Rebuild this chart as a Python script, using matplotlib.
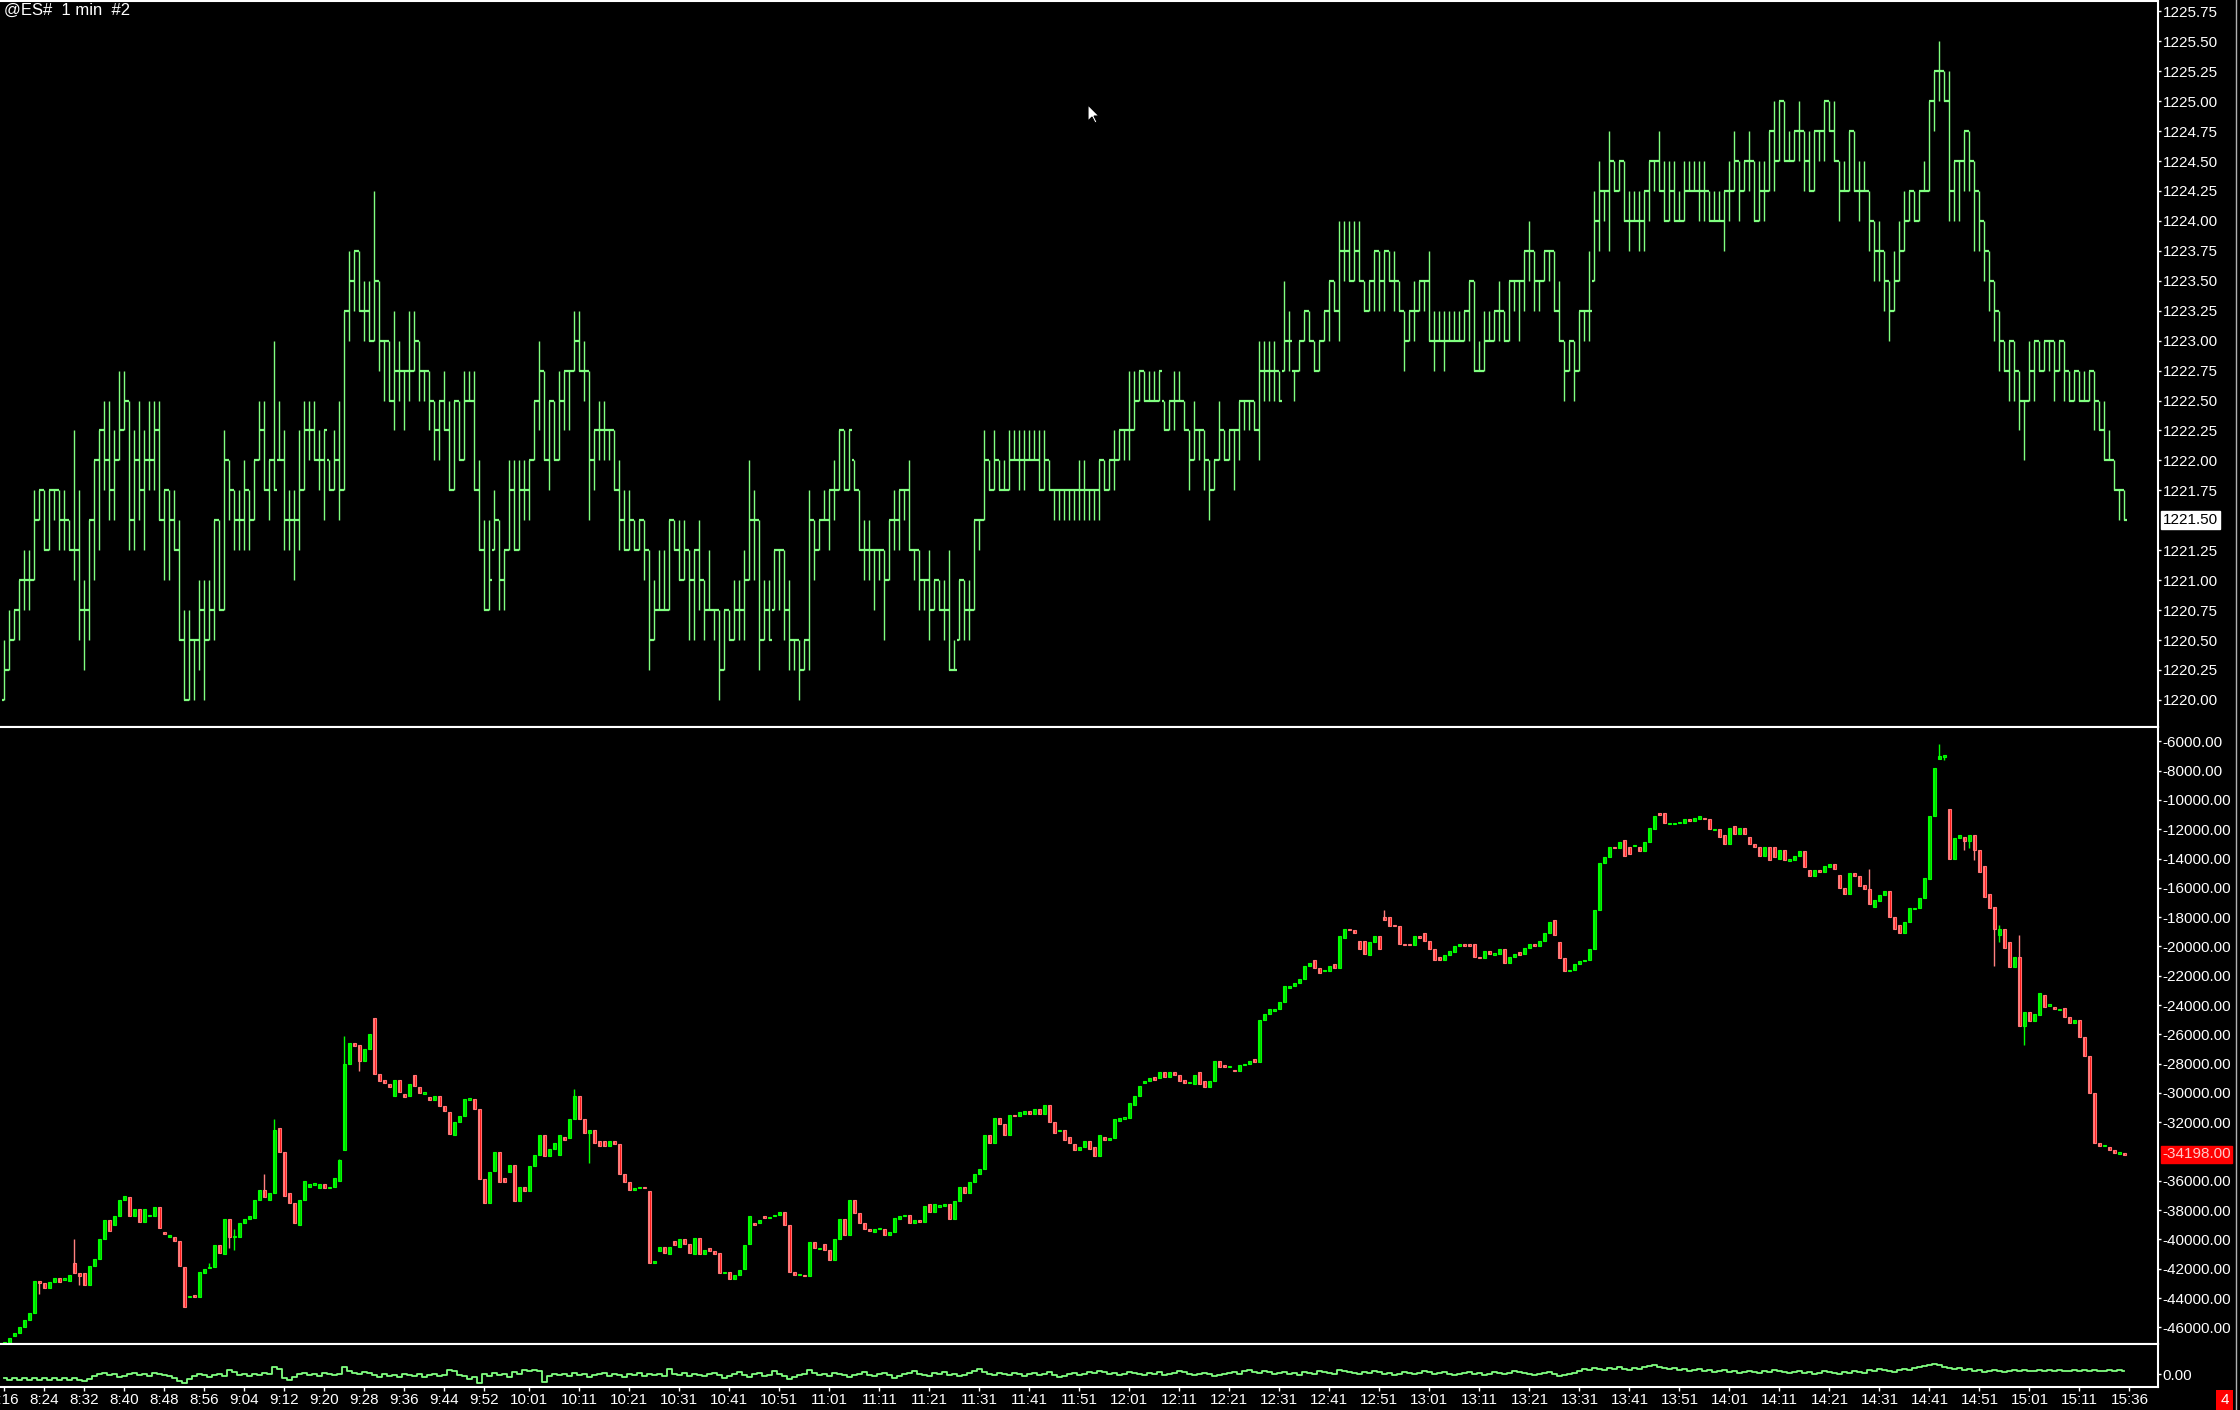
import numpy as np
import matplotlib.pyplot as plt
from matplotlib.ticker import FormatStrFormatter
from matplotlib.patches import Polygon, Rectangle
from matplotlib.lines import Line2D

plt.rcParams['font.family'] = ['Liberation Sans', 'DejaVu Sans']

# ---------------- data ----------------
title = '@ES#  1 min  #2'
time_labels = ['8:16', '8:24', '8:32', '8:40', '8:48', '8:56', '9:04', '9:12', '9:20', '9:28',
               '9:36', '9:44', '9:52', '10:01', '10:11', '10:21', '10:31', '10:41', '10:51',
               '11:01', '11:11', '11:21', '11:31', '11:41', '11:51', '12:01', '12:11', '12:21',
               '12:31', '12:41', '12:51', '13:01', '13:11', '13:21', '13:31', '13:41', '13:51',
               '14:01', '14:11', '14:21', '14:31', '14:41', '14:51', '15:01', '15:11', '15:36']

# price bars, in ticks of 0.25 above 1220.00
price_close = [
    1, 2, 3, 4, 4, 4, 6, 7, 5, 7,   7, 6, 6, 5, 5, 3, 3, 6, 8, 9,
    8, 7, 8, 9, 10, 6, 8, 7, 8, 8,  9, 6, 7, 6, 5, 2, 0, 2, 2, 3,
    2, 3, 6, 3, 8, 7, 6, 6, 7, 6,   8, 9, 7, 8, 7, 8, 6, 6, 6, 7,
    9, 9, 8, 8, 9, 7, 8, 7, 13, 14, 15, 13, 13, 12, 14, 12, 12, 10, 11, 11,
    11, 11, 12, 11, 11, 10, 9, 10, 9, 7,  10, 8, 10, 10, 7, 5, 3, 4, 6, 4,
    5, 7, 5, 7, 7, 8, 10, 11, 8, 10,  8, 10, 11, 11, 12, 11, 11, 8, 9, 9,
    9, 9, 7, 6, 5, 6, 5, 6, 5, 2,   3, 3, 3, 6, 5, 4, 5, 4, 5, 4,
    3, 3, 3, 1, 3, 2, 3, 3, 4, 6,   6, 2, 3, 2, 5, 5, 3, 2, 2, 1,
    2, 6, 5, 6, 6, 7, 7, 9, 7, 9,   7, 5, 5, 5, 5, 5, 4, 6, 6, 7,
    7, 5, 5, 4, 4, 3, 4, 3, 3, 1,   1, 4, 3, 3, 6, 6, 8, 7, 8, 7,
    7, 8, 8, 8, 8, 8, 8, 7, 8, 7,   7, 7, 7, 7, 7, 7, 7, 7, 7, 8,
    7, 8, 8, 9, 9, 9, 10, 11, 10, 10,  10, 11, 9, 10, 10, 10, 9, 8, 9, 9,
    8, 7, 8, 9, 8, 9, 9, 10, 10, 10,  9, 11, 11, 11, 11, 10, 12, 12, 11, 12,
    13, 12, 11, 12, 13, 14, 13, 15, 15, 14,  15, 14, 13, 14, 15, 14, 15, 14, 14, 13,
    12, 13, 13, 14, 14, 12, 12, 12, 12, 12,  12, 12, 13, 14, 11, 11, 12, 12, 13, 13,
    12, 14, 14, 14, 15, 15, 14, 14, 15, 15,  13, 12, 11, 12, 11, 13, 13, 13, 16, 17,
    17, 18, 17, 18, 16, 16, 16, 16, 17, 18,  18, 17, 16, 17, 16, 16, 17, 17, 17, 17,
    17, 16, 16, 16, 17, 17, 18, 17, 18, 18,  16, 17, 17, 19, 18, 20, 18, 18, 19, 19,
    18, 17, 19, 19, 20, 19, 18, 17, 17, 19,  17, 17, 17, 16, 15, 15, 14, 13, 14, 15,
    16, 17, 16, 17, 17, 20, 21, 21, 20, 17,  18, 18, 19, 18, 17, 16, 15, 14, 13, 12,
    11, 12, 11, 10, 10, 11, 12, 11, 12, 12,  11, 12, 11, 10, 11, 10, 10, 11, 10, 9,
    8, 8, 7, 7, 6]
price_low = [
    0, 1, 2, 2, 3, 3, 4, 6, 5, 5,   6, 5, 5, 5, 4, 2, 1, 2, 4, 5,
    7, 6, 6, 8, 9, 5, 5, 6, 5, 7,   7, 6, 4, 4, 5, 2, 0, 0, 0, 1,
    0, 2, 2, 3, 3, 6, 5, 5, 5, 5,   6, 8, 7, 6, 7, 8, 5, 5, 4, 5,
    7, 8, 8, 7, 6, 7, 7, 6, 7, 12,  13, 13, 12, 12, 12, 11, 10, 10, 9, 10,
    9, 10, 11, 10, 10, 9, 8, 8, 9, 7,  7, 8, 8, 10, 7, 5, 3, 3, 5, 3,
    3, 5, 5, 5, 6, 6, 8, 9, 8, 7,   8, 8, 9, 9, 11, 11, 10, 6, 7, 8,
    8, 8, 7, 5, 5, 5, 5, 5, 4, 1,   2, 3, 3, 3, 5, 4, 4, 2, 2, 3,
    2, 3, 2, 0, 1, 2, 2, 2, 2, 4,   4, 1, 2, 2, 3, 3, 2, 1, 1, 0,
    1, 1, 4, 5, 6, 5, 6, 7, 7, 7,   7, 5, 4, 4, 3, 4, 2, 4, 5, 5,
    6, 5, 4, 3, 3, 2, 3, 3, 2, 1,   1, 2, 2, 2, 3, 5, 6, 7, 7, 7,
    7, 7, 8, 7, 7, 8, 8, 7, 7, 7,   6, 6, 6, 6, 6, 6, 6, 6, 6, 6,
    7, 7, 7, 8, 8, 8, 9, 10, 10, 10,  10, 10, 9, 9, 9, 10, 9, 7, 8, 8,
    7, 6, 7, 8, 8, 8, 7, 8, 9, 9,   9, 8, 10, 10, 10, 10, 11, 11, 10, 11,
    12, 12, 11, 11, 12, 12, 13, 12, 14, 14,  14, 14, 13, 13, 13, 13, 13, 14, 13, 13,
    11, 12, 12, 13, 13, 12, 11, 12, 11, 12,  12, 12, 12, 12, 11, 11, 11, 12, 12, 12,
    12, 12, 13, 12, 13, 14, 13, 13, 14, 14,  13, 12, 10, 11, 10, 11, 12, 12, 14, 15,
    16, 15, 17, 17, 16, 15, 16, 15, 15, 16,  17, 17, 16, 16, 16, 16, 16, 17, 17, 16,
    16, 16, 16, 16, 15, 16, 17, 16, 17, 17,  16, 16, 16, 17, 17, 18, 18, 18, 18, 18,
    17, 17, 17, 18, 18, 19, 18, 16, 17, 17,  17, 16, 17, 15, 14, 14, 13, 12, 13, 14,
    15, 16, 16, 16, 17, 17, 19, 20, 20, 16,  16, 16, 17, 17, 15, 15, 14, 13, 12, 11,
    11, 10, 10, 9, 8, 10, 10, 11, 11, 11,  10, 11, 10, 10, 10, 10, 10, 10, 9, 9,
    8, 8, 7, 6, 6]
price_high = [
    2, 3, 3, 4, 5, 5, 7, 7, 7, 7,   7, 7, 7, 6, 9, 7, 4, 6, 8, 9,
    10, 10, 9, 11, 11, 10, 9, 10, 9, 10,  10, 10, 7, 7, 7, 6, 3, 3, 2, 4,
    4, 4, 6, 6, 9, 8, 7, 7, 8, 7,   8, 10, 10, 8, 12, 10, 9, 7, 7, 9,
    10, 10, 10, 9, 9, 8, 9, 10, 13, 15,  15, 15, 14, 14, 17, 14, 12, 12, 13, 12,
    11, 13, 13, 12, 11, 11, 10, 10, 11, 10,  10, 10, 11, 11, 11, 8, 6, 6, 7, 6,
    5, 8, 8, 8, 8, 8, 10, 12, 11, 10,  10, 11, 11, 11, 13, 13, 12, 11, 9, 10,
    10, 9, 9, 8, 7, 7, 6, 6, 6, 5,   4, 5, 5, 6, 6, 6, 6, 5, 5, 6,
    4, 5, 3, 3, 3, 3, 4, 4, 5, 8,   7, 6, 4, 4, 5, 5, 5, 4, 2, 2,
    2, 7, 6, 6, 7, 7, 8, 9, 9, 9,   8, 7, 6, 6, 5, 5, 5, 6, 7, 7,
    7, 8, 5, 5, 4, 5, 4, 4, 4, 5,   2, 4, 4, 4, 6, 6, 9, 8, 9, 8,
    8, 9, 9, 9, 9, 9, 9, 9, 9, 8,   7, 7, 7, 7, 7, 8, 8, 7, 7, 8,
    8, 8, 9, 9, 9, 11, 11, 11, 11, 11,  11, 11, 10, 10, 11, 11, 10, 9, 10, 9,
    9, 8, 8, 10, 9, 9, 9, 10, 10, 10,  10, 12, 12, 12, 12, 11, 14, 13, 11, 12,
    13, 13, 12, 12, 13, 14, 14, 16, 16, 16,  16, 16, 14, 14, 15, 15, 15, 15, 15, 14,
    13, 13, 14, 14, 14, 15, 13, 13, 13, 13,  13, 13, 13, 14, 14, 12, 13, 13, 13, 14,
    13, 14, 14, 14, 15, 16, 15, 14, 15, 15,  15, 14, 12, 12, 12, 13, 13, 15, 17, 18,
    17, 19, 18, 18, 18, 17, 17, 17, 17, 18,  18, 19, 18, 18, 18, 17, 18, 18, 18, 18,
    18, 17, 17, 17, 17, 18, 19, 18, 18, 19,  18, 18, 18, 19, 20, 20, 20, 19, 19, 20,
    19, 19, 19, 19, 20, 20, 20, 18, 18, 19,  19, 18, 18, 17, 16, 16, 15, 14, 15, 16,
    17, 17, 17, 17, 18, 20, 21, 22, 21, 21,  18, 18, 19, 19, 18, 17, 16, 15, 14, 13,
    12, 12, 12, 11, 10, 12, 12, 12, 12, 12,  12, 12, 12, 11, 11, 11, 11, 11, 11, 10,
    10, 9, 8, 7, 7]

# cumulative delta candles, in hundreds
delta_open = [
    -472, -471, -466, -464, -460, -455, -450, -428, -430, -433,
    -429, -426, -427, -428, -416, -423, -423, -431, -418, -413,
    -400, -387, -390, -384, -373, -371, -384, -379, -388, -384,
    -384, -378, -395, -398, -398, -401, -419, -439, -438, -439,
    -423, -419, -419, -404, -410, -386, -398, -398, -389, -386,
    -385, -373, -366, -373, -368, -324, -340, -368, -375, -390,
    -373, -364, -362, -365, -362, -365, -364, -360, -339, -280,
    -266, -267, -278, -270, -249, -287, -291, -294, -302, -291,
    -301, -302, -288, -296, -300, -303, -305, -302, -309, -313,
    -329, -320, -316, -304, -304, -311, -359, -375, -353, -340,
    -358, -354, -349, -374, -364, -367, -350, -342, -329, -343,
    -338, -342, -330, -331, -318, -302, -318, -327, -325, -333,
    -333, -336, -333, -335, -355, -361, -366, -365, -364, -367,
    -416, -408, -405, -410, -401, -405, -400, -403, -410, -399,
    -410, -406, -408, -409, -423, -422, -427, -424, -420, -403,
    -389, -389, -384, -385, -384, -383, -381, -390, -422, -424,
    -424, -425, -402, -406, -403, -407, -414, -400, -386, -397,
    -373, -382, -389, -393, -395, -393, -393, -397, -395, -386,
    -384, -383, -389, -387, -388, -376, -381, -377, -377, -376,
    -386, -374, -364, -368, -361, -355, -352, -329, -334, -317,
    -321, -329, -315, -316, -314, -312, -314, -311, -314, -308,
    -320, -326, -325, -330, -335, -339, -337, -333, -337, -343,
    -330, -332, -331, -319, -317, -317, -308, -302, -293, -292,
    -289, -290, -286, -289, -286, -288, -291, -293, -294, -286,
    -292, -296, -292, -278, -281, -282, -284, -285, -281, -280,
    -277, -279, -250, -246, -244, -243, -238, -228, -227, -225,
    -222, -213, -209, -215, -217, -217, -212, -215, -194, -188,
    -189, -196, -196, -206, -197, -193, -180, -180, -185, -186,
    -198, -198, -199, -193, -191, -196, -202, -207, -209, -206,
    -204, -200, -198, -198, -198, -207, -208, -203, -205, -205,
    -202, -211, -207, -204, -205, -201, -198, -200, -196, -191,
    -182, -197, -208, -217, -216, -212, -210, -209, -202, -175,
    -143, -139, -132, -133, -127, -132, -131, -132, -135, -129,
    -120, -109, -109, -116, -116, -116, -116, -113, -114, -113,
    -112, -113, -120, -120, -124, -130, -118, -123, -119, -125,
    -130, -132, -138, -132, -132, -140, -134, -141, -141, -138,
    -135, -148, -152, -148, -149, -146, -144, -151, -160, -164,
    -150, -152, -158, -161, -173, -169, -165, -162, -180, -185,
    -191, -183, -174, -174, -167, -154, -111, -72, -70, -106,
    -140, -126, -125, -128, -124, -134, -145, -164, -173, -192,
    -188, -197, -214, -207, -254, -245, -251, -247, -233, -240,
    -241, -243, -242, -248, -252, -250, -262, -275, -300, -334,
    -336, -337, -339, -341, -341]
delta_close = [
    -470, -467, -464, -460, -455, -450, -428, -430, -433, -429,
    -426, -429, -427, -424, -423, -425, -431, -418, -413, -400,
    -387, -394, -384, -373, -370, -384, -379, -388, -379, -383,
    -378, -392, -396, -397, -401, -418, -446, -439, -439, -422,
    -420, -419, -404, -409, -386, -398, -398, -389, -386, -384,
    -373, -366, -371, -368, -325, -340, -370, -375, -389, -373,
    -360, -362, -362, -362, -365, -364, -358, -346, -280, -266,
    -268, -278, -270, -260, -287, -292, -293, -296, -291, -299,
    -303, -294, -295, -300, -300, -305, -302, -309, -312, -328,
    -320, -316, -304, -304, -311, -359, -375, -354, -340, -361,
    -361, -349, -374, -364, -367, -350, -342, -329, -343, -338,
    -334, -329, -332, -318, -302, -318, -327, -325, -334, -336,
    -336, -333, -335, -355, -361, -366, -365, -364, -365, -416,
    -415, -405, -409, -405, -404, -400, -403, -409, -399, -410,
    -407, -408, -410, -423, -422, -427, -424, -421, -404, -384,
    -390, -387, -385, -385, -383, -381, -390, -422, -424, -424,
    -425, -402, -406, -406, -407, -414, -400, -386, -397, -373,
    -382, -389, -393, -394, -393, -392, -397, -395, -385, -384,
    -383, -389, -387, -388, -377, -381, -376, -377, -376, -386,
    -374, -364, -368, -361, -355, -352, -329, -334, -317, -321,
    -329, -315, -316, -313, -312, -314, -311, -314, -308, -320,
    -327, -325, -332, -334, -339, -337, -333, -338, -343, -329,
    -332, -331, -318, -317, -317, -307, -302, -295, -292, -290,
    -291, -286, -289, -286, -288, -292, -293, -293, -288, -294,
    -296, -292, -278, -282, -282, -282, -285, -281, -280, -278,
    -279, -250, -246, -243, -243, -238, -227, -227, -225, -222,
    -213, -211, -215, -218, -216, -213, -215, -193, -188, -189,
    -191, -202, -205, -197, -193, -202, -182, -186, -186, -198,
    -199, -199, -193, -194, -196, -202, -209, -209, -206, -203,
    -200, -198, -200, -200, -207, -208, -203, -205, -205, -202,
    -211, -207, -205, -206, -201, -198, -200, -196, -191, -183,
    -192, -208, -217, -216, -212, -210, -209, -202, -175, -143,
    -139, -132, -133, -129, -138, -137, -131, -135, -129, -119,
    -111, -110, -116, -116, -116, -115, -113, -114, -112, -111,
    -113, -120, -120, -125, -130, -119, -123, -119, -123, -130,
    -132, -138, -132, -141, -139, -134, -141, -141, -138, -135,
    -146, -152, -148, -149, -145, -144, -147, -160, -164, -150,
    -152, -159, -161, -171, -168, -165, -162, -180, -188, -191,
    -183, -174, -174, -167, -153, -111, -78, -70, -70, -140,
    -126, -124, -128, -124, -134, -149, -166, -174, -188, -188,
    -201, -214, -207, -254, -245, -251, -246, -232, -241, -240,
    -243, -243, -248, -252, -250, -262, -275, -300, -334, -336,
    -336, -339, -341, -341, -342]
# visible wicks beyond the body (bar index: value in hundreds)
delta_wick_high = {14: -400, 41: -416, 46: -393, 52: -355, 54: -318, 67: -345, 68: -261,
                   114: -297, 276: -175, 373: -147, 387: -62, 399: -185, 403: -192}
delta_wick_low = {7: -437, 15: -431, 45: -406, 46: -407, 71: -285, 117: -348, 388: -73,
                  392: -134, 393: -133, 394: -141, 398: -213, 399: -197, 404: -267}

# lower strip oscillator
strip_vals = [
    -4, -6, -4, -6, -4, -6, -4, -6, -4, -6,  -4, -6, -4, -6, -4, -6, -7, -5, -2, 0,
    1, -1, 0, -3, -2, 0, 1, -1, 0, -2,  1, 0, -1, -2, -4, -7, -9, -5, -2, 0,
    -1, -3, -1, 0, -2, 4, 2, -1, 0, -2,  0, -1, 1, 0, 7, 5, -4, -6, -3, 0,
    1, -1, 0, -2, 1, 0, -1, 0, 7, 3,  1, 0, 2, 1, -1, -3, 0, -2, -1, -3,
    0, -1, -2, 0, -3, -1, 0, -2, -1, 4,  3, -1, -2, -5, -3, -9, 0, -2, 1, -1,
    0, -3, 2, 0, 4, 3, 4, 3, -8, -2,  0, -1, 0, -2, 1, -1, 0, -3, -1, 0,
    1, -2, 0, -1, -3, 0, -1, 1, -2, 0,  -1, 0, -2, 5, 0, -1, 1, -2, 0, -1,
    -2, 0, 1, -1, -4, -2, 0, 2, -1, -3,  0, 1, -2, -1, 3, 0, -2, -5, -3, -1,
    0, 4, 1, -1, 0, -2, 1, 0, -1, -3,  -1, 0, 2, -1, -2, 0, 1, -1, -4, -2,
    0, 1, 3, 0, -1, -2, 1, 0, 2, -1,  0, -2, -1, 1, 3, 5, 2, 0, -1, 1,
    0, -1, 1, 0, -2, 0, 1, -1, 0, 2,  -1, -3, -2, 0, 1, -1, 0, 2, 1, 3,
    2, 0, 1, -1, 0, 2, 1, 0, -1, 1,  0, 2, -1, 0, 1, 3, 2, 0, -1, 0,
    1, 0, -2, -1, 0, 1, 2, 0, 3, 4,  2, 1, 3, 2, 0, 1, 2, 0, 1, -1,
    2, 1, 0, 3, 2, 1, 0, 4, 3, 2,  1, 0, 2, 1, 3, 2, 0, 1, -1, 0,
    2, 1, 0, 1, 3, 2, 0, 1, 2, 0,  -1, 0, 1, 2, 0, 1, -1, 0, 2, 1,
    0, 1, 3, 2, 1, 0, -1, 0, 1, 2,  0, -2, -1, 0, 1, 3, 5, 4, 6, 5,
    4, 6, 5, 7, 5, 4, 6, 5, 7, 8,  9, 7, 6, 5, 6, 4, 5, 3, 4, 5,
    3, 4, 2, 3, 4, 2, 3, 1, 2, 3,  2, 1, 3, 2, 4, 3, 2, 1, 2, 3,
    1, 2, 0, 1, 3, 2, 1, 0, 2, 1,  3, 2, 1, 4, 3, 5, 4, 3, 2, 4,
    5, 4, 6, 7, 8, 9, 10, 9, 7, 6,  5, 6, 4, 5, 3, 4, 2, 3, 4, 3,
    2, 3, 4, 3, 4, 3, 3, 4, 3, 4,  3, 4, 3, 3, 4, 3, 4, 3, 4, 3,
    3, 4, 3, 4, 3]

last_price = 1221.50
last_delta = -34198.00

# ---------------- layout ----------------
W, H = 2240, 1410
BG = 'black'
BAR = '#80FF80'
UP_FACE, UP_EDGE, UP_WICK = '#00C000', '#00FF00', '#00FF00'
DN_FACE, DN_EDGE, DN_WICK = '#FF0000', '#FF7070', '#FF8080'


def rect(x0, y0, x1, y1):
    return [x0 / W, 1 - y1 / H, (x1 - x0) / W, (y1 - y0) / H]


fig = plt.figure(figsize=(W / 100, H / 100), dpi=100, facecolor=BG)
ax_p = fig.add_axes(rect(0, 1, 2158, 727))
ax_d = fig.add_axes(rect(0, 727, 2158, 1344))
ax_v = fig.add_axes(rect(0, 1344, 2158, 1387))

n = len(price_close)
idx = np.arange(n)

for ax in (ax_p, ax_d, ax_v):
    ax.set_facecolor(BG)
    ax.set_xlim(-0.86, 430.7)
    ax.spines['left'].set_visible(False)
    for s in ('top', 'right', 'bottom'):
        ax.spines[s].set_color('white')
        ax.spines[s].set_linewidth(1.5)
    ax.yaxis.tick_right()
    ax.tick_params(axis='y', colors='white', labelcolor='white', labelsize=11,
                   direction='out', length=2.5, width=1, pad=1)
    ax.tick_params(axis='x', bottom=False, labelbottom=False)
    ax.yaxis.set_major_formatter(FormatStrFormatter('%.2f'))

# ---- price bars ----
pc = 1220 + 0.25 * np.array(price_close)
pl = 1220 + 0.25 * np.array(price_low)
ph = 1220 + 0.25 * np.array(price_high)
po = np.clip(np.concatenate([[pl[0]], pc[:-1]]), pl, ph)
ax_p.vlines(idx, pl, ph, color=BAR, lw=1.0)
ax_p.hlines(po, idx - 0.45, idx, color=BAR, lw=1.6)
ax_p.hlines(pc, idx, idx + 0.45, color=BAR, lw=1.6)
ax_p.set_ylim(1219.774, 1225.836)
pticks = np.arange(1220, 1225.76, 0.25)
ax_p.set_yticks([t for t in pticks if abs(t - last_price) > 0.01])
ax_p.annotate(f'{last_price:.2f}', xy=(1.0, last_price), xycoords=ax_p.get_yaxis_transform(),
              xytext=(3.5, 0), textcoords='offset points', ha='left', va='center',
              fontsize=11, color='black', annotation_clip=False,
              bbox=dict(boxstyle='square,pad=0.12', fc='white', ec='white'))

# ---- cumulative delta candles ----
do = np.array(delta_open) * 100.0
dc = np.array(delta_close) * 100.0
up = dc >= do
top = np.maximum(do, dc)
bot = np.minimum(do, dc)
hi = top.copy()
lo = bot.copy()
for k, v in delta_wick_high.items():
    hi[k] = v * 100.0
for k, v in delta_wick_low.items():
    lo[k] = v * 100.0
ax_d.vlines(idx[up], lo[up], hi[up], color=UP_WICK, lw=1.0)
ax_d.vlines(idx[~up], lo[~up], hi[~up], color=DN_WICK, lw=1.0)
body = np.maximum(top - bot, 100.0)
base = (top + bot) / 2 - body / 2
ax_d.bar(idx[up], body[up], bottom=base[up], width=0.7, color=UP_FACE,
         edgecolor=UP_EDGE, linewidth=0.8)
ax_d.bar(idx[~up], body[~up], bottom=base[~up], width=0.7, color=DN_FACE,
         edgecolor=DN_EDGE, linewidth=0.8)
ax_d.set_ylim(-47134, -5017)
ax_d.set_yticks([v for v in range(-46000, -5999, 2000) if v != -34000])
ax_d.annotate(f'{last_delta:.2f}', xy=(1.0, last_delta), xycoords=ax_d.get_yaxis_transform(),
              xytext=(3.0, 0), textcoords='offset points', ha='left', va='center',
              fontsize=11, color='#FFC8C8', annotation_clip=False,
              bbox=dict(boxstyle='square,pad=0.1', fc='#FF0000', ec='#FF0000'))

# ---- lower strip ----
ax_v.plot(idx, strip_vals, color=BAR, lw=1.3, drawstyle='steps-mid')
ax_v.set_ylim(-13, 30)
ax_v.set_yticks([0])


def bar_pos(lbl):
    h, m = map(int, lbl.split(':'))
    t = h * 60 + m
    pos = t - (8 * 60 + 16)
    if t > 15 * 60 + 15:
        pos -= 15
    return pos


ax_v.set_xticks([bar_pos(t) for t in time_labels])
ax_v.set_xticklabels(time_labels)
ax_v.tick_params(axis='x', bottom=True, labelbottom=True, colors='white', labelcolor='white',
                 labelsize=11, direction='out', length=3, width=1, pad=1.5)

# ---- window decorations ----
fig.text(4 / W, 1 - 10 / H, title, color='white', fontsize=12, ha='left', va='center')
fig.add_artist(Line2D([2236 / W, 2236 / W], [0, 1], color='#B0B0B0', lw=1,
                      transform=fig.transFigure))
fig.add_artist(Rectangle((2216 / W, 1 - 1410 / H), 17 / W, 20 / H, transform=fig.transFigure,
                         fc='#FF0000', ec='none'))
fig.text(2224.5 / W, 1 - 1400 / H, '4', color='white', fontsize=11, ha='center', va='center')

cur = [(0, 0), (0, 16), (4, 12), (7, 18), (9, 17), (6, 11), (11, 11)]
fig.add_artist(Polygon([((1088 + x) / W, 1 - (105 + y) / H) for x, y in cur], closed=True,
                       transform=fig.transFigure, fc='white', ec='black', lw=0.8))

fig.savefig('out.png', dpi=100, facecolor=BG)
